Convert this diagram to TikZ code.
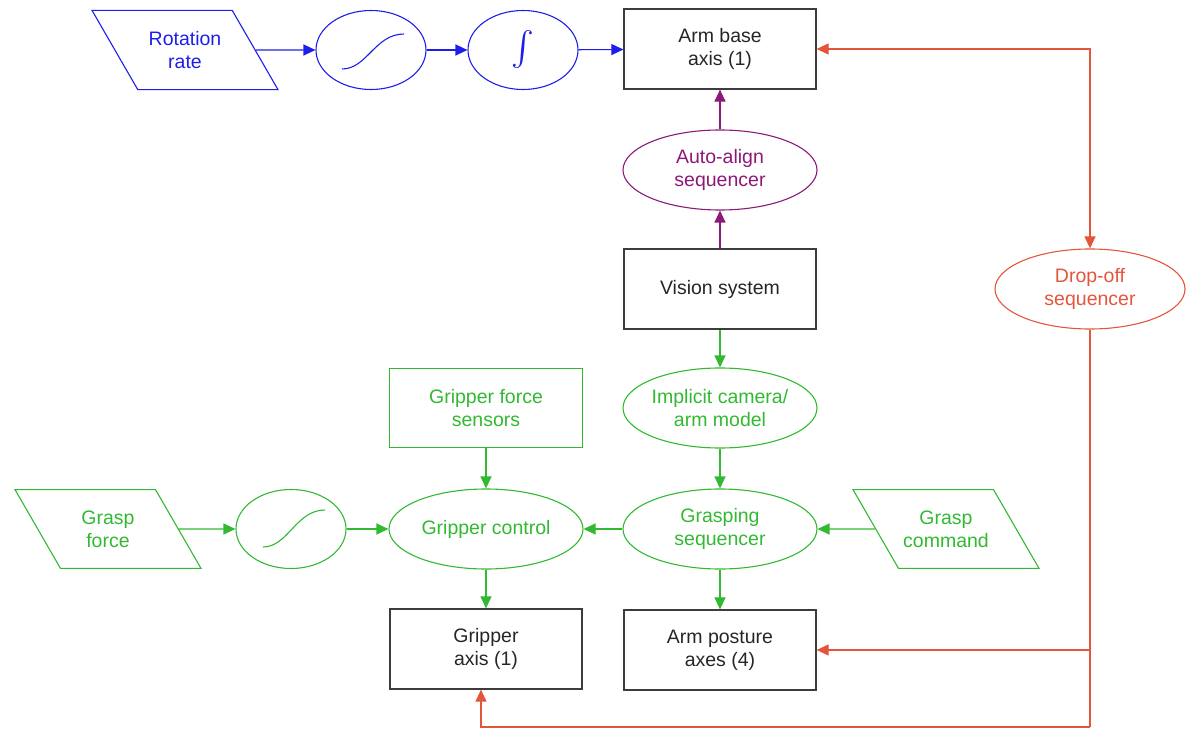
\documentclass[tikz,border=0pt]{standalone}
\usepackage{amsmath,amssymb}
\usepackage{fontspec}
\setmainfont{Liberation Sans}
\usepackage{tikz}
\usetikzlibrary{shapes.geometric,arrows.meta}
\definecolor{bluec}{RGB}{30,30,235}
\definecolor{purplec}{RGB}{140,25,120}
\definecolor{greenc}{RGB}{50,185,50}
\definecolor{redc}{RGB}{228,85,60}
\definecolor{boxc}{RGB}{60,60,60}

\begin{document}
\begin{tikzpicture}[x=1pt,y=-1pt,>={Triangle[length=12pt,width=11pt]},
  every node/.style={font=\fontsize{19.5}{23}\selectfont,align=center,inner sep=0pt},
  box/.style={rectangle,draw,line width=1.2pt,minimum width=192,minimum height=80},
  oval/.style={ellipse,draw,line width=1.1pt,minimum width=194,minimum height=80},
  smalloval/.style={ellipse,draw,line width=1.1pt,minimum width=110,minimum height=79},
  pgram/.style={trapezium,trapezium left angle=120,trapezium right angle=60,
    trapezium stretches body,draw,line width=1.1pt,inner xsep=0pt,inner ysep=21pt,
    minimum width=186},
  bl/.style={draw=bluec,text=bluec},
  pu/.style={draw=purplec,text=purplec},
  gr/.style={draw=greenc,text=greenc},
  rd/.style={draw=redc,text=redc},
  bk/.style={draw=boxc,text=black!85},
  link/.style={line width=1.1pt,->}]
  \useasboundingbox (0,0) rectangle (1187,730);

  \node[pgram,bl] (rot) at (185,50) {Rotation\\rate};
  \node[smalloval,bl] (sig1) at (371,50) {};
  \node[smalloval,bl] (integ) at (523,50) {\resizebox*{!}{38pt}{$\int$}};
  \node[box,bk] (armbase) at (720,49) {Arm base\\axis (1)};
  \node[oval,pu] (autoalign) at (720,170) {Auto-align\\sequencer};
  \node[box,bk] (vision) at (720,289) {Vision system};
  \node[oval,rd,minimum width=190] (dropoff) at (1090,289) {Drop-off\\sequencer};
  \node[oval,gr] (implicit) at (720,408) {Implicit camera/\\arm model};
  \node[oval,gr] (grasping) at (720,529) {Grasping\\sequencer};
  \node[pgram,gr] (gcmd) at (946,529) {Grasp\\command};
  \node[box,gr,minimum width=193,minimum height=79] (sensors) at (486,408) {Gripper force\\sensors};
  \node[oval,gr] (gripctl) at (486,529) {Gripper control};
  \node[smalloval,gr] (sig2) at (291,529) {};
  \node[pgram,gr] (gforce) at (108,529) {Grasp\\force};
  \node[box,bk] (gripaxis) at (486,649) {Gripper\\axis (1)};
  \node[box,bk] (posture) at (720,650) {Arm posture\\axes (4)};
  \coordinate (bot) at (1090,727);

  \draw[bluec,line width=1.1pt] ([shift={(-29,19)}]sig1.center) .. controls ([shift={(-4,19)}]sig1.center) and ([shift={(4,-16)}]sig1.center) .. ([shift={(33,-16)}]sig1.center);
  \draw[greenc,line width=1.1pt] ([shift={(-28,18)}]sig2.center) .. controls ([shift={(-3,18)}]sig2.center) and ([shift={(5,-19)}]sig2.center) .. ([shift={(34,-19)}]sig2.center);

  \draw[link,bluec] (rot) -- (sig1);
  \draw[link,bluec] (sig1) -- (integ);
  \draw[link,bluec] (integ) -- (armbase);
  \draw[link,purplec] (vision) -- (autoalign);
  \draw[link,purplec] (autoalign) -- (armbase);
  \draw[link,greenc] (vision) -- (implicit);
  \draw[link,greenc] (implicit) -- (grasping);
  \draw[link,greenc] (gcmd) -- (grasping);
  \draw[link,greenc] (grasping) -- (gripctl);
  \draw[link,greenc] (sensors) -- (gripctl);
  \draw[link,greenc] (gforce) -- (sig2);
  \draw[link,greenc] (sig2) -- (gripctl);
  \draw[link,greenc] (gripctl) -- (gripaxis);
  \draw[link,greenc] (grasping) -- (posture);
  \draw[link,redc,<->] (armbase.east) -- (armbase.east -| dropoff.north) -- (dropoff.north);
  \draw[line width=1.1pt,redc] (dropoff.south) -- (bot);
  \draw[link,redc] (dropoff.south |- posture.east) -- (posture.east);
  \draw[link,redc] (bot) -| ([xshift=-5]gripaxis.south);
\end{tikzpicture}
\end{document}
